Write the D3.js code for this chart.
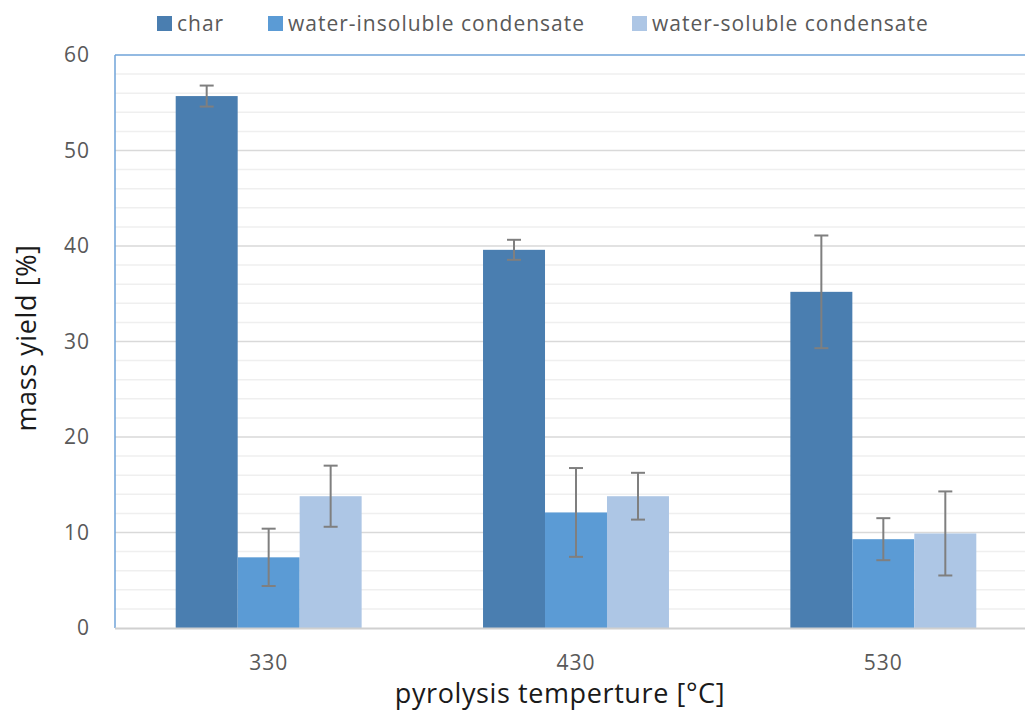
<!DOCTYPE html>
<html><head><meta charset="utf-8">
<script src="https://cdn.jsdelivr.net/npm/d3@7"></script>
<style>body{margin:0;background:#fff;}svg{display:block;font-family:"Open Sans",sans-serif;}</style>
</head><body>
<svg id="c" width="1025" height="711"></svg>
<script>
const categories = ["330", "430", "530"];
const seriesNames = ["char", "water-insoluble condensate", "water-soluble condensate"];
const charVals = [55.7, 39.6, 35.2];
const insolVals = [7.4, 12.1, 9.3];
const solVals = [13.8, 13.8, 9.9];
const charErr = [1.1, 1.05, 5.9];
const insolErr = [3.0, 4.65, 2.2];
const solErr = [3.2, 2.45, 4.4];
const yTicks = [0, 10, 20, 30, 40, 50, 60];
const colors = ["#4a7eb0", "#5b9bd5", "#adc6e5"];

const series = [charVals, insolVals, solVals];
const errs = [charErr, insolErr, solErr];

const svg = d3.select("#c");
const m = {l:115, t:55, r:1037, b:628};
const x = d3.scaleBand().domain(categories).range([m.l, m.r]).paddingInner(0.395).paddingOuter(0.1975);
const xs = d3.scaleBand().domain(d3.range(3)).range([0, x.bandwidth()]);
const y = d3.scaleLinear().domain([0, 60]).range([m.b, m.t]);

// minor grid
const g = svg.append("g");
g.selectAll("line.minor").data(d3.range(0, 61, 2).filter(v => v % 10 !== 0))
  .join("line").attr("x1", m.l).attr("x2", m.r).attr("y1", d => y(d)).attr("y2", d => y(d))
  .attr("stroke", "#efefef").attr("stroke-width", 1.5);
g.selectAll("line.major").data(yTicks.filter(v => v > 0 && v < 60))
  .join("line").attr("x1", m.l).attr("x2", m.r).attr("y1", d => y(d)).attr("y2", d => y(d))
  .attr("stroke", "#d9d9d9").attr("stroke-width", 1.5);

// bars
series.forEach((vals, si) => {
  svg.append("g").selectAll("rect").data(vals).join("rect")
    .attr("x", (d, i) => x(categories[i]) + xs(si))
    .attr("y", d => y(d))
    .attr("width", xs.bandwidth())
    .attr("height", d => y(0) - y(d))
    .attr("fill", colors[si]);
});

// error bars
series.forEach((vals, si) => {
  const eg = svg.append("g").attr("stroke", "#7f7f7f").attr("stroke-width", 2);
  vals.forEach((v, i) => {
    const cx = x(categories[i]) + xs(si) + xs.bandwidth() / 2;
    const e = errs[si][i];
    eg.append("line").attr("x1", cx).attr("x2", cx).attr("y1", y(v + e)).attr("y2", y(v - e));
    eg.append("line").attr("x1", cx - 7).attr("x2", cx + 7).attr("y1", y(v + e)).attr("y2", y(v + e));
    eg.append("line").attr("x1", cx - 7).attr("x2", cx + 7).attr("y1", y(v - e)).attr("y2", y(v - e));
  });
});

// borders
svg.append("line").attr("x1", m.l).attr("x2", m.r).attr("y1", m.t).attr("y2", m.t).attr("stroke", "#6fa3d8").attr("stroke-width", 1.5);
svg.append("line").attr("x1", m.l).attr("x2", m.l).attr("y1", m.t).attr("y2", m.b).attr("stroke", "#6fa3d8").attr("stroke-width", 1.5);
svg.append("line").attr("x1", m.l).attr("x2", m.r).attr("y1", m.b + 0.5).attr("y2", m.b + 0.5).attr("stroke", "#d0d0d0").attr("stroke-width", 2);

// y axis labels
const yAxis = d3.axisLeft(y).tickValues(yTicks).tickSize(0).tickPadding(25);
const ya = svg.append("g").attr("transform", `translate(${m.l},0)`).call(yAxis);
ya.select(".domain").remove();
ya.selectAll("text").attr("font-size", 21).attr("letter-spacing", 1).attr("fill", "#595959").attr("font-family", "Open Sans");

// x axis labels
const xAxis = d3.axisBottom(x).tickSize(0).tickPadding(27);
const xa = svg.append("g").attr("transform", `translate(0,${m.b})`).call(xAxis);
xa.select(".domain").remove();
xa.selectAll("text").attr("font-size", 21).attr("letter-spacing", 1).attr("fill", "#595959").attr("font-family", "Open Sans");

// titles
svg.append("text").attr("x", 560).attr("y", 703).attr("text-anchor", "middle")
  .attr("font-size", 27).attr("letter-spacing", 0.6).attr("fill", "#1a1a1a").text("pyrolysis temperture [°C]");
svg.append("text").attr("transform", "translate(36,338) rotate(-90)").attr("text-anchor", "middle")
  .attr("font-size", 27).attr("letter-spacing", 0.6).attr("fill", "#1a1a1a").text("mass yield [%]");

// legend
const legX = [157, 268, 632];
const leg = svg.append("g");
seriesNames.forEach((n, i) => {
  leg.append("rect").attr("x", legX[i]).attr("y", 16).attr("width", 15).attr("height", 15).attr("fill", colors[i]);
  leg.append("text").attr("x", legX[i] + 20).attr("y", 31).attr("font-size", 21).attr("letter-spacing", 1).attr("fill", "#595959").text(n);
});
</script>
</body></html>
